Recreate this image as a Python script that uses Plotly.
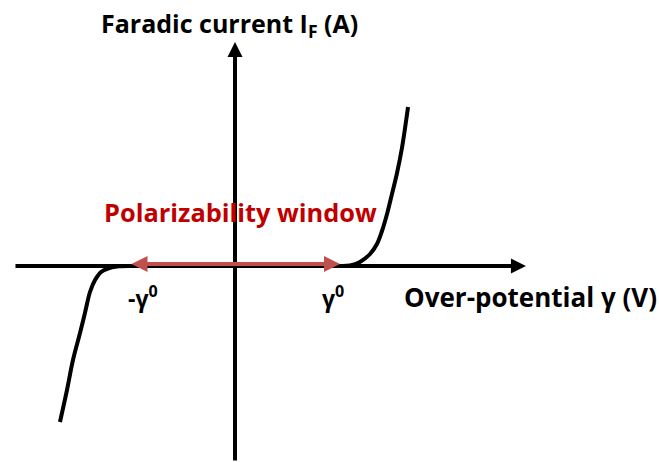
import plotly.graph_objects as go

# Over-potential (in units of gamma0) and faradic current (arbitrary units)
gamma_pos = [1.000, 1.095, 1.190, 1.286, 1.352, 1.400, 1.448, 1.495, 1.543, 1.590, 1.648]
current_pos = [0.00, 0.005, 0.04, 0.12, 0.22, 0.35, 0.52, 0.72, 0.93, 1.18, 1.59]

gamma_neg = [-1.000, -1.124, -1.210, -1.276, -1.333, -1.381, -1.429, -1.476, -1.543, -1.600, -1.667]
current_neg = [0.00, -0.005, -0.025, -0.06, -0.14, -0.26, -0.47, -0.67, -0.94, -1.24, -1.56]

# Window bounds (-gamma0, +gamma0)
window = [-1.0, 1.0]

# Axis extents
x_axis_ends = [-2.105, 2.771]
y_axis_ends = [-1.96, 2.24]
x_range = [-2.238, 4.038]
y_range = [-1.96, 2.66]

title_y = "<b>Faradic current I<sub>F</sub> (A)</b>"
title_x = "<b>Over-potential γ (V)</b>"
window_label = "<b>Polarizability window</b>"
tick_labels = ["<b>-γ<sup>0</sup></b>", "<b>γ<sup>0</sup></b>"]

FONT = "Open Sans"
BLACK = "#000000"
RED_ARROW = "#C0504D"
RED_TEXT = "#C00000"

fig = go.Figure()

for gx, cy in [(gamma_pos, current_pos), (gamma_neg, current_neg)]:
    fig.add_trace(go.Scatter(
        x=gx, y=cy, mode="lines",
        line=dict(color=BLACK, width=4, shape="spline", smoothing=1.0),
        hoverinfo="skip", showlegend=False,
    ))

annotations = [
    # horizontal axis with arrow
    dict(x=x_axis_ends[1], y=0, ax=x_axis_ends[0], ay=0,
         xref="x", yref="y", axref="x", ayref="y", text="",
         showarrow=True, arrowhead=2, arrowsize=0.75, arrowwidth=4,
         arrowcolor=BLACK),
    # vertical axis with arrow
    dict(x=0, y=y_axis_ends[1], ax=0, ay=y_axis_ends[0],
         xref="x", yref="y", axref="x", ayref="y", text="",
         showarrow=True, arrowhead=2, arrowsize=0.75, arrowwidth=4,
         arrowcolor=BLACK),
    # polarizability window double arrow
    dict(x=window[1], y=0.02, ax=window[0], ay=0.02,
         xref="x", yref="y", axref="x", ayref="y", text="",
         showarrow=True, arrowhead=2, startarrowhead=2, arrowside="end+start",
         arrowsize=0.8, startarrowsize=0.8, arrowwidth=4, arrowcolor=RED_ARROW),
    dict(x=-1.296, y=2.42, xref="x", yref="y", text=title_y, showarrow=False,
         xanchor="left", yanchor="middle",
         font=dict(family=FONT, size=25, color=BLACK)),
    dict(x=1.590, y=-0.31, xref="x", yref="y", text=title_x, showarrow=False,
         xanchor="left", yanchor="middle",
         font=dict(family=FONT, size=26, color=BLACK)),
    dict(x=-1.267, y=0.54, xref="x", yref="y", text=window_label, showarrow=False,
         xanchor="left", yanchor="middle",
         font=dict(family=FONT, size=25.4, color=RED_TEXT)),
    dict(x=window[0] - 0.04, y=-0.31, xref="x", yref="y", text=tick_labels[0],
         showarrow=False, xanchor="left", yanchor="middle",
         font=dict(family=FONT, size=23, color=BLACK)),
    dict(x=window[1] - 0.19, y=-0.31, xref="x", yref="y", text=tick_labels[1],
         showarrow=False, xanchor="left", yanchor="middle",
         font=dict(family=FONT, size=23, color=BLACK)),
]

fig.update_layout(
    width=659, height=462,
    margin=dict(l=0, r=0, t=0, b=0),
    paper_bgcolor="white", plot_bgcolor="white",
    xaxis=dict(range=x_range, visible=False, fixedrange=True),
    yaxis=dict(range=y_range, visible=False, fixedrange=True),
    annotations=annotations,
    showlegend=False,
)

fig.write_html("out.html", config={"displayModeBar": False})
